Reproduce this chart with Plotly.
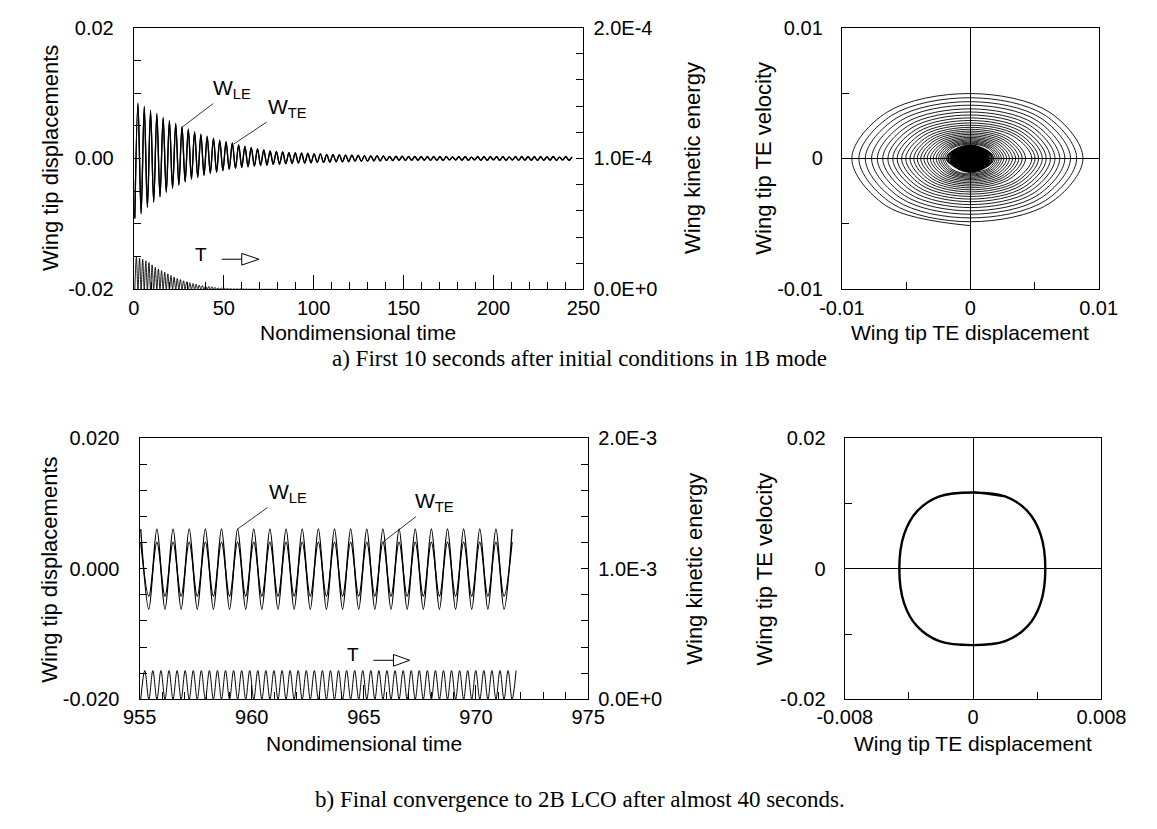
import plotly.graph_objects as go

W, H = 1157, 829
SANS = "Liberation Sans, Arial, sans-serif"
SERIF = "Liberation Serif, Times New Roman, serif"
FS_TICK = 20
FS_TITLE = 21


def px(x):
    return x / W


def py(y):
    return 1 - y / H


def alternate(first, second):
    out = []
    for i in range(max(len(first), len(second))):
        if i < len(first):
            out.append(first[i])
        if i < len(second):
            out.append(second[i])
    return out


# ---------------- (a) first 250 time units: extrema ----------------
a_t_first = 0.5      # time of the first extremum (a trough)
a_half = 1.75        # time between successive extrema (half period)
wLE_a_troughs = [
    -0.0092, -0.0085, -0.0075, -0.0067, -0.0059, -0.0052, -0.0046, -0.0041, -0.0036, -0.0032,
    -0.0029, -0.0026, -0.0023, -0.0021, -0.0019, -0.0017, -0.0015, -0.0014, -0.0013, -0.0012,
    -0.0011, -0.0010, -0.0009, -0.0009, -0.0008, -0.0008, -0.0007, -0.0007, -0.0007, -0.0006,
    -0.0006, -0.0006, -0.0005, -0.0005, -0.0005, -0.0004, -0.0004, -0.0004, -0.0004, -0.0004,
    -0.0003, -0.00035, -0.0003, -0.0003, -0.00025, -0.0003, -0.0003, -0.00025, -0.0003, -0.00025,
    -0.0002, -0.00025, -0.0002, -0.0003, -0.0002, -0.00025, -0.0003, -0.0002, -0.00025, -0.0003,
    -0.00025, -0.0003, -0.0002, -0.0003, -0.00025, -0.0003, -0.0002, -0.0003, -0.00025, -0.0002]
wLE_a_peaks = [
    0.0085, 0.0080, 0.0074, 0.0069, 0.0063, 0.0058, 0.0054, 0.0049, 0.0045, 0.0041,
    0.0037, 0.0034, 0.0031, 0.0028, 0.0026, 0.0024, 0.0021, 0.0019, 0.0017, 0.0015,
    0.0013, 0.0012, 0.0011, 0.0010, 0.0009, 0.0009, 0.0008, 0.0008, 0.0007, 0.0007,
    0.0006, 0.0006, 0.0006, 0.0005, 0.0005, 0.0005, 0.0004, 0.0004, 0.00045, 0.0004,
    0.0003, 0.0003, 0.00035, 0.0003, 0.0003, 0.00025, 0.0003, 0.00025, 0.0003, 0.00025,
    0.00025, 0.0002, 0.0003, 0.0002, 0.00025, 0.0003, 0.0002, 0.0003, 0.00025, 0.0002,
    0.0003, 0.00025, 0.0003, 0.0002, 0.0003, 0.00025, 0.0003, 0.0002, 0.00025, 0.0002]
wTE_a_troughs = [
    -0.0090, -0.0083, -0.0074, -0.0066, -0.0058, -0.0051, -0.0045, -0.0040, -0.0035, -0.0031,
    -0.0028, -0.0025, -0.0022, -0.0020, -0.0018, -0.0016, -0.0015, -0.0013, -0.0012, -0.0011,
    -0.0010, -0.0010, -0.0009, -0.0008, -0.0008, -0.0007, -0.0007, -0.0007, -0.0006, -0.0006,
    -0.0006, -0.0005, -0.0005, -0.0005, -0.0004, -0.0004, -0.0004, -0.0004, -0.00035, -0.00035,
    -0.0003, -0.0003, -0.00025, -0.0003, -0.0003, -0.00025, -0.0002, -0.0003, -0.00025, -0.0003,
    -0.00025, -0.0002, -0.0003, -0.00025, -0.0002, -0.0003, -0.00025, -0.0002, -0.0003, -0.00025,
    -0.0002, -0.00025, -0.0003, -0.0002, -0.0003, -0.00025, -0.0003, -0.00025, -0.0002, -0.0003]
wTE_a_peaks = [
    0.0083, 0.0078, 0.0072, 0.0067, 0.0061, 0.0057, 0.0052, 0.0048, 0.0044, 0.0040,
    0.0036, 0.0033, 0.0030, 0.0027, 0.0025, 0.0023, 0.0020, 0.0018, 0.0016, 0.0014,
    0.0013, 0.0011, 0.0010, 0.0010, 0.0009, 0.0008, 0.0008, 0.0007, 0.0007, 0.0007,
    0.0006, 0.0006, 0.0005, 0.0005, 0.0005, 0.0004, 0.0004, 0.0004, 0.0004, 0.00035,
    0.0003, 0.00035, 0.0003, 0.00025, 0.0003, 0.0003, 0.00025, 0.0003, 0.0002, 0.0003,
    0.0002, 0.0003, 0.00025, 0.0002, 0.0003, 0.00025, 0.0003, 0.0002, 0.0003, 0.00025,
    0.0002, 0.0003, 0.00025, 0.0003, 0.0002, 0.00025, 0.0003, 0.0002, 0.0003, 0.00025]

# kinetic energy (right axis): minima at the displacement extrema, maxima in between
Ta_t_first = 0.5
Ta_half = 0.875
T_a_mins = [
    0.0, 0.0, 0.0, 0.0, 0.0, 0.0, 0.0, 0.0, 0.0, 0.0,
    0.0, 0.0, 0.0, 0.0, 0.0, 0.0, 0.0, 0.0, 0.0, 0.0,
    0.0, 0.0, 0.0, 0.0, 0.0, 0.0, 0.0, 0.0, 0.0, 0.0,
    0.0, 0.0, 0.0, 0.0, 0.0, 0.0, 0.0, 0.0, 0.0, 0.0,
    0.0, 0.0, 0.0, 0.0, 0.0, 0.0]
T_a_peaks = [
    2.47e-5, 2.39e-5, 2.30e-5, 2.18e-5, 2.05e-5, 1.87e-5, 1.69e-5, 1.56e-5, 1.44e-5, 1.31e-5,
    1.19e-5, 1.06e-5, 9.4e-6, 8.4e-6, 7.5e-6, 6.6e-6, 5.8e-6, 5.1e-6, 4.5e-6, 3.9e-6,
    3.3e-6, 2.9e-6, 2.5e-6, 2.2e-6, 2.0e-6, 1.6e-6, 1.2e-6, 1.0e-6, 8e-7, 6e-7,
    5e-7, 4.5e-7, 4e-7, 3.5e-7, 3e-7, 2.5e-7, 2e-7, 2e-7, 1.5e-7, 1.5e-7,
    1e-7, 1e-7, 1e-7, 1e-7, 1e-7]

# phase plane (a): where each loop of the TE spiral crosses the axes (clockwise)
sp_bottom = [
    -0.00513, -0.00483, -0.00454, -0.00426, -0.00400, -0.00375, -0.00352, -0.00330, -0.00310, -0.00290,
    -0.00272, -0.00255, -0.00239, -0.00224, -0.00210, -0.00197, -0.00185, -0.00173, -0.00162, -0.00152,
    -0.00143, -0.00134, -0.00126, -0.00118, -0.00111, -0.00104, -0.00098, -0.00092, -0.00086, -0.00081,
    -0.00076, -0.00071, -0.00067, -0.00063, -0.00059, -0.00055, -0.00052, -0.00049, -0.00046, -0.00043,
    -0.00040, -0.00038, -0.00036, -0.00034, -0.00032, -0.00030, -0.00028, -0.00026, -0.00025, -0.00023,
    -0.00021, -0.00019, -0.00017, -0.00015, -0.00013, -0.00011, -0.00009, -0.00007, -0.00005, -0.00003]
sp_left = [
    -0.00923, -0.00868, -0.00818, -0.00769, -0.00724, -0.00682, -0.00642, -0.00604, -0.00570, -0.00535,
    -0.00503, -0.00470, -0.00440, -0.00413, -0.00386, -0.00361, -0.00336, -0.00311, -0.00289, -0.00266,
    -0.00247, -0.00230, -0.00214, -0.00199, -0.00185, -0.00172, -0.00160, -0.00149, -0.00139, -0.00129,
    -0.00120, -0.00112, -0.00104, -0.00097, -0.00090, -0.00084, -0.00078, -0.00073, -0.00068, -0.00063,
    -0.00059, -0.00055, -0.00051, -0.00048, -0.00045, -0.00042, -0.00039, -0.00036, -0.00034, -0.00032,
    -0.00030, -0.00027, -0.00024, -0.00021, -0.00018, -0.00015, -0.00012, -0.00009, -0.00006, -0.00003]
sp_top = [
    0.00496, 0.00464, 0.00434, 0.00407, 0.00379, 0.00355, 0.00332, 0.00310, 0.00290, 0.00271,
    0.00254, 0.00238, 0.00223, 0.00209, 0.00196, 0.00184, 0.00172, 0.00161, 0.00151, 0.00142,
    0.00133, 0.00125, 0.00117, 0.00110, 0.00103, 0.00097, 0.00091, 0.00085, 0.00080, 0.00075,
    0.00070, 0.00066, 0.00062, 0.00058, 0.00054, 0.00051, 0.00048, 0.00045, 0.00042, 0.00039,
    0.00037, 0.00035, 0.00033, 0.00031, 0.00029, 0.00027, 0.00025, 0.00024, 0.00022, 0.00021,
    0.00019, 0.00017, 0.00015, 0.00013, 0.00011, 0.00009, 0.00007, 0.00005, 0.00004, 0.00002]
sp_right = [
    0.00878, 0.00829, 0.00781, 0.00737, 0.00697, 0.00660, 0.00625, 0.00592, 0.00562, 0.00532,
    0.00505, 0.00480, 0.00431, 0.00405, 0.00378, 0.00354, 0.00329, 0.00305, 0.00283, 0.00261,
    0.00242, 0.00225, 0.00210, 0.00195, 0.00181, 0.00169, 0.00157, 0.00146, 0.00136, 0.00126,
    0.00118, 0.00110, 0.00102, 0.00095, 0.00088, 0.00082, 0.00076, 0.00072, 0.00067, 0.00062,
    0.00058, 0.00054, 0.00050, 0.00047, 0.00044, 0.00041, 0.00038, 0.00035, 0.00033, 0.00031,
    0.00029, 0.00026, 0.00023, 0.00020, 0.00017, 0.00014, 0.00011, 0.00008, 0.00005, 0.00003]
# where the outer loops cross the two diagonals of each quadrant
sp_left_diag = [
    -0.00653, -0.00614, -0.00578, -0.00544, -0.00512, -0.00482, -0.00454, -0.00427, -0.00403, -0.00378,
    -0.00356, -0.00332, -0.00311, -0.00292, -0.00273, -0.00255, -0.00238, -0.00220, -0.00204, -0.00188,
    -0.00175, -0.00163, -0.00151, -0.00141]
sp_bottom_diag = [
    -0.00363, -0.00341, -0.00321, -0.00301, -0.00283, -0.00265, -0.00249, -0.00233, -0.00219, -0.00205,
    -0.00192, -0.00180, -0.00169, -0.00158, -0.00148, -0.00139, -0.00131, -0.00122, -0.00115, -0.00107,
    -0.00101, -0.00095, -0.00089, -0.00083, -0.00078]
sp_top_diag = [
    0.00351, 0.00328, 0.00307, 0.00288, 0.00268, 0.00251, 0.00235, 0.00219, 0.00205, 0.00192,
    0.00180, 0.00168, 0.00158, 0.00148, 0.00139, 0.00130, 0.00122, 0.00114, 0.00107, 0.00100,
    0.00094, 0.00088, 0.00083, 0.00078]
sp_right_diag = [
    0.00621, 0.00586, 0.00552, 0.00521, 0.00493, 0.00467, 0.00442, 0.00419, 0.00397, 0.00376,
    0.00357, 0.00339, 0.00305, 0.00286, 0.00267, 0.00250, 0.00233, 0.00216, 0.00200, 0.00185,
    0.00171, 0.00159, 0.00148, 0.00138]

# ---------------- (b) limit cycle, t = 955 ... 972 ----------------
b_t_first = 955.05
b_half = 0.36
wLE_b_peaks = [0.0061, 0.0061, 0.0061, 0.0061, 0.0061, 0.0061, 0.0061, 0.0061, 0.0061, 0.0061,
               0.0061, 0.0061, 0.0061, 0.0061, 0.0061, 0.0061, 0.0061, 0.0061, 0.0061, 0.0061,
               0.0061, 0.0061, 0.0061, 0.0061]
wLE_b_troughs = [-0.0062, -0.0062, -0.0062, -0.0062, -0.0062, -0.0062, -0.0062, -0.0062, -0.0062, -0.0062,
                 -0.0062, -0.0062, -0.0062, -0.0062, -0.0062, -0.0062, -0.0062, -0.0062, -0.0062, -0.0062,
                 -0.0062, -0.0062, -0.0062]
wTE_b_peaks = [0.0041, 0.0041, 0.0041, 0.0041, 0.0041, 0.0041, 0.0041, 0.0041, 0.0041, 0.0041,
               0.0041, 0.0041, 0.0041, 0.0041, 0.0041, 0.0041, 0.0041, 0.0041, 0.0041, 0.0041,
               0.0041, 0.0041, 0.0041, 0.0041]
wTE_b_troughs = [-0.0042, -0.0042, -0.0042, -0.0042, -0.0042, -0.0042, -0.0042, -0.0042, -0.0042, -0.0042,
                 -0.0042, -0.0042, -0.0042, -0.0042, -0.0042, -0.0042, -0.0042, -0.0042, -0.0042, -0.0042,
                 -0.0042, -0.0042, -0.0042]
Tb_t_first = 955.05
Tb_half = 0.18
T_b_mins = [0.0, 0.0, 0.0, 0.0, 0.0, 0.0, 0.0, 0.0, 0.0, 0.0,
            0.0, 0.0, 0.0, 0.0, 0.0, 0.0, 0.0, 0.0, 0.0, 0.0,
            0.0, 0.0, 0.0, 0.0, 0.0, 0.0, 0.0, 0.0, 0.0, 0.0,
            0.0, 0.0, 0.0, 0.0, 0.0, 0.0, 0.0, 0.0, 0.0, 0.0,
            0.0, 0.0, 0.0, 0.0, 0.0, 0.0, 0.0]
T_b_peaks = [2.2e-4, 2.2e-4, 2.2e-4, 2.2e-4, 2.2e-4, 2.2e-4, 2.2e-4, 2.2e-4, 2.2e-4, 2.2e-4,
             2.2e-4, 2.2e-4, 2.2e-4, 2.2e-4, 2.2e-4, 2.2e-4, 2.2e-4, 2.2e-4, 2.2e-4, 2.2e-4,
             2.2e-4, 2.2e-4, 2.2e-4, 2.2e-4, 2.2e-4, 2.2e-4, 2.2e-4, 2.2e-4, 2.2e-4, 2.2e-4,
             2.2e-4, 2.2e-4, 2.2e-4, 2.2e-4, 2.2e-4, 2.2e-4, 2.2e-4, 2.2e-4, 2.2e-4, 2.2e-4,
             2.2e-4, 2.2e-4, 2.2e-4, 2.2e-4, 2.2e-4, 2.2e-4, 2.2e-4]

# phase plane (b): points read around the limit cycle (clockwise from the top, ends overlap)
lco_disp = [0.0, 0.0020, 0.0034, 0.0042, 0.0045, 0.0042, 0.0034, 0.0020, 0.0,
            -0.0021, -0.0035, -0.0043, -0.0046, -0.0043, -0.0035, -0.0021, 0.0, 0.0020]
lco_vel = [0.0117, 0.0111, 0.0088, 0.0053, 0.0, -0.0053, -0.0088, -0.0111, -0.0117,
           -0.0111, -0.0088, -0.0053, 0.0, 0.0053, 0.0088, 0.0111, 0.0117, 0.0111]

# ---------------- traces ----------------
fig = go.Figure()
wline = dict(color="black", width=1.3, shape="spline", smoothing=1.0)
tline = dict(color="black", width=0.9, shape="spline", smoothing=1.0)

fig.add_trace(go.Scatter(x0=a_t_first, dx=a_half, y=alternate(wLE_a_troughs, wLE_a_peaks),
                         mode="lines", line=wline, xaxis="x", yaxis="y"))
fig.add_trace(go.Scatter(x0=a_t_first, dx=a_half, y=alternate(wTE_a_troughs, wTE_a_peaks),
                         mode="lines", line=wline, xaxis="x", yaxis="y"))
fig.add_trace(go.Scatter(x0=Ta_t_first, dx=Ta_half, y=alternate(T_a_mins, T_a_peaks),
                         mode="lines", line=tline, xaxis="x", yaxis="y2"))

# outer loops: 8 read points per loop
n_out = len(sp_left_diag)
ox, oy = [], []
for i in range(n_out):
    ox += [0.0, sp_left_diag[i], sp_left[i], sp_left_diag[i],
           0.0, sp_right_diag[i], sp_right[i], sp_right_diag[i]]
    oy += [sp_bottom[i], sp_bottom_diag[i], 0.0, sp_top_diag[i],
           sp_top[i], sp_top_diag[i], 0.0, sp_bottom_diag[i + 1]]
ox.append(0.0)
oy.append(sp_bottom[n_out])
fig.add_trace(go.Scatter(x=ox, y=oy, mode="lines",
                         line=dict(color="black", width=0.9, shape="spline", smoothing=1.0),
                         xaxis="x2", yaxis="y3"))
# inner (dense) loops: axis crossings only
ix, iy = [], []
for i in range(n_out, len(sp_left)):
    ix += [0.0, sp_left[i], 0.0, sp_right[i]]
    iy += [sp_bottom[i], 0.0, sp_top[i], 0.0]
fig.add_trace(go.Scatter(x=ix, y=iy, mode="lines",
                         line=dict(color="black", width=1.2, shape="spline", smoothing=1.3),
                         xaxis="x2", yaxis="y3"))

fig.add_trace(go.Scatter(x0=b_t_first, dx=b_half, y=alternate(wLE_b_peaks, wLE_b_troughs),
                         mode="lines", line=wline, xaxis="x3", yaxis="y4"))
fig.add_trace(go.Scatter(x0=b_t_first, dx=b_half, y=alternate(wTE_b_peaks, wTE_b_troughs),
                         mode="lines", line=wline, xaxis="x3", yaxis="y4"))
fig.add_trace(go.Scatter(x0=Tb_t_first, dx=Tb_half, y=alternate(T_b_mins, T_b_peaks),
                         mode="lines", line=dict(color="black", width=1.0, shape="spline", smoothing=1.0),
                         xaxis="x3", yaxis="y5"))
fig.add_trace(go.Scatter(x=lco_disp, y=lco_vel, mode="lines",
                         line=dict(color="black", width=2.4, shape="spline", smoothing=1.0),
                         xaxis="x4", yaxis="y6"))


# ---------------- axes ----------------
def ax(**kw):
    base = dict(showline=True, linecolor="black", linewidth=1.3, mirror=True,
                ticks="inside", tickcolor="black", tickwidth=1, ticklen=7,
                showgrid=False, zeroline=False, tickmode="array",
                tickfont=dict(family=SANS, size=FS_TICK, color="black"))
    base.update(kw)
    return base


def minor(d, t0=0):
    return dict(dtick=d, tick0=t0, ticks="inside", ticklen=7, tickcolor="black", tickwidth=1, showgrid=False)


TOP = [py(286), py(17)]
BOT = [py(707), py(439)]
ZL = dict(zeroline=True, zerolinecolor="black", zerolinewidth=1)

layout = dict(
    width=W, height=H, margin=dict(l=0, r=0, t=0, b=0),
    paper_bgcolor="white", plot_bgcolor="white", showlegend=False,
    xaxis=ax(domain=[px(111), px(582)], range=[0, 250], anchor="y",
             tickvals=[0, 50, 100, 150, 200, 250], ticklen=14, minor=minor(10)),
    yaxis=ax(domain=TOP, range=[-0.02, 0.02], anchor="x",
             tickvals=[-0.02, 0, 0.02], ticktext=["-0.02", "0.00", "0.02"],
             minor=minor(0.005), ticklabelstandoff=15),
    yaxis2=ax(overlaying="y", side="right", anchor="x", range=[0, 2e-4], mirror=False,
              tickvals=[0, 1e-4, 2e-4], ticktext=["0.0E+0", "1.0E-4", "2.0E-4"],
              minor=minor(2e-5), ticklabelstandoff=5),
    xaxis2=ax(domain=[px(853), px(1122)], range=[-0.01, 0.01], anchor="y3",
              tickvals=[-0.01, 0, 0.01], ticktext=["-0.01", "0", "0.01"],
              minor=minor(0.005), **ZL),
    yaxis3=ax(domain=TOP, range=[-0.01, 0.01], anchor="x2",
              tickvals=[-0.01, 0, 0.01], ticktext=["-0.01", "0", "0.01"],
              minor=minor(0.005), ticklabelstandoff=14, **ZL),
    xaxis3=ax(domain=[px(117), px(587)], range=[955, 975], anchor="y4",
              tickvals=[955, 960, 965, 970, 975], ticklen=14, minor=minor(1, 955)),
    yaxis4=ax(domain=BOT, range=[-0.02, 0.02], anchor="x3",
              tickvals=[-0.02, 0, 0.02], ticktext=["-0.020", "0.000", "0.020"],
              minor=minor(0.004), ticklabelstandoff=15),
    yaxis5=ax(overlaying="y4", side="right", anchor="x3", range=[0, 2e-3], mirror=False,
              tickvals=[0, 1e-3, 2e-3], ticktext=["0.0E+0", "1.0E-3", "2.0E-3"],
              minor=minor(2e-4), ticklabelstandoff=5),
    xaxis4=ax(domain=[px(856), px(1125)], range=[-0.008, 0.008], anchor="y6",
              tickvals=[-0.008, 0, 0.008], ticktext=["-0.008", "0", "0.008"],
              minor=minor(0.004), **ZL),
    yaxis6=ax(domain=BOT, range=[-0.02, 0.02], anchor="x4",
              tickvals=[-0.02, 0, 0.02], ticktext=["-0.02", "0", "0.02"],
              minor=minor(0.01), ticklabelstandoff=14, **ZL),
)
fig.update_layout(**layout)


# ---------------- text ----------------
def label(text, x, y, angle=0, font=SANS, size=FS_TITLE):
    return dict(text=text, x=px(x), y=py(y), xref="paper", yref="paper", showarrow=False,
                xanchor="center", yanchor="middle", textangle=angle,
                font=dict(family=font, size=size, color="black"))


ann = [
    label("Wing tip displacements", 24, 151, -90, size=22),
    label("Wing kinetic energy", 697, 151, -90, size=22),
    label("Wing tip TE velocity", 771, 151, -90, size=22),
    label("Nondimensional time", 346, 330),
    label("Wing tip TE displacement", 987, 330),
    label("Wing tip displacements", 23, 574, -90, size=22),
    label("Wing kinetic energy", 699, 573, -90, size=22),
    label("Wing tip TE velocity", 772, 573, -90, size=22),
    label("Nondimensional time", 352, 752),
    label("Wing tip TE displacement", 990, 752),
    label("a) First 10 seconds after initial conditions in 1B mode", 578, 357, font=SERIF, size=23),
    label("b) Final convergence to 2B LCO after almost 40 seconds.", 578, 810, font=SERIF, size=23),
    label("T", 181, 250, size=19),
    label("T", 341, 661, size=19),
]


def leader(text, x, y, xr, yr, axp, ayp):
    return dict(text=text, x=x, y=y, xref=xr, yref=yr, showarrow=True, arrowhead=0,
                arrowwidth=0.8, arrowcolor="black", ax=axp, ay=ayp, standoff=0,
                font=dict(family=SANS, size=21, color="black"))


ann += [
    leader("W<sub>LE</sub>", 26.9, 0.0048, "x", "y", 50, -38),
    leader("W<sub>TE</sub>", 55.5, 0.0022, "x", "y", 54, -36),
    leader("W<sub>LE</sub>", 959.37, 0.0061, "x3", "y4", 50, -36),
    leader("W<sub>TE</sub>", 965.85, 0.0041, "x3", "y4", 52, -40),
]
fig.update_layout(annotations=ann)


def arrow_shapes(x0, x1, x2, y, h):
    return [
        dict(type="line", xref="paper", yref="paper", x0=px(x0), x1=px(x1), y0=py(y), y1=py(y),
             line=dict(color="black", width=1)),
        dict(type="path", xref="paper", yref="paper",
             path=f"M {px(x1)} {py(y - h)} L {px(x2)} {py(y)} L {px(x1)} {py(y + h)} Z",
             line=dict(color="black", width=1), fillcolor="white"),
    ]


fig.update_layout(shapes=arrow_shapes(203, 224, 242, 255, 6) + arrow_shapes(362, 383, 400, 667, 6))

fig.write_html("out.html")
